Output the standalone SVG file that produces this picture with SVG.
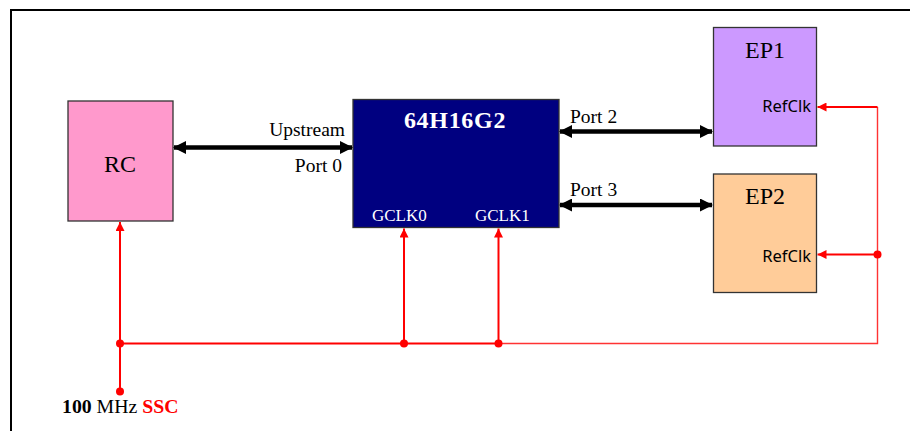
<svg xmlns="http://www.w3.org/2000/svg" width="910" height="431" viewBox="0 0 910 431">
<style>
.serif{font-family:"Liberation Serif","Times New Roman",serif}
.sans{font-family:"Noto Sans","DejaVu Sans",sans-serif}
.box{stroke:#333;stroke-width:1.3}
.bus{stroke:#000;stroke-width:4.5;fill:none}
.clk{stroke:#FF0000;stroke-width:2;fill:none}
.dot{fill:#FF0000}
</style>
<defs>
<marker id="ah" markerWidth="13" markerHeight="13" refX="12" refY="6.5" orient="auto-start-reverse" markerUnits="userSpaceOnUse">
<path d="M0,0 L13,6.5 L0,13 Z" fill="#000"/>
</marker>
<marker id="rh" markerWidth="9" markerHeight="9" refX="9" refY="4.5" orient="auto" markerUnits="userSpaceOnUse">
<path d="M0,0 L9,4.5 L0,9 Z" fill="#FF0000"/>
</marker>
</defs>
<rect width="910" height="431" fill="#fff"/>
<g id="frame" fill="none" stroke="#000" stroke-width="2">
<path d="M11,431 V10 H910"/>
</g>
<g id="RC">
<rect class="box" x="68" y="101" width="105" height="120" fill="#FF99CC"/>
<text class="serif" x="120" y="172" font-size="24" text-anchor="middle" fill="#000">RC</text>
</g>
<g id="switch">
<rect class="box" x="353" y="99.5" width="206" height="128" fill="#000080"/>
<text class="serif" x="455" y="128" font-size="24" font-weight="bold" text-anchor="middle" fill="#fff" letter-spacing="0.7">64H16G2</text>
<text class="serif" x="372" y="221" font-size="17" fill="#fff">GCLK0</text>
<text class="serif" x="475" y="221" font-size="17" fill="#fff">GCLK1</text>
</g>
<g id="EP1">
<rect class="box" x="713.5" y="27.5" width="103" height="118.5" fill="#CC99FF"/>
<text class="serif" x="765" y="58" font-size="24" text-anchor="middle" fill="#000">EP1</text>
<text class="sans" x="811" y="112" font-size="16.5" text-anchor="end" fill="#000">RefClk</text>
</g>
<g id="EP2">
<rect class="box" x="713.5" y="174" width="103" height="118.5" fill="#FFCC99"/>
<text class="serif" x="765" y="204" font-size="24" text-anchor="middle" fill="#000">EP2</text>
<text class="sans" x="811" y="262" font-size="16.5" text-anchor="end" fill="#000">RefClk</text>
</g>
<g id="source">
<text class="serif" x="62" y="413" font-size="19.8"><tspan font-weight="bold" fill="#000">100</tspan><tspan fill="#000"> MHz </tspan><tspan font-weight="bold" fill="#FF0000">SSC</tspan></text>
</g>
<g id="connectors">
<line class="bus" x1="174" y1="147.5" x2="352" y2="147.5" marker-start="url(#ah)" marker-end="url(#ah)"/>
<line class="bus" x1="560" y1="131.5" x2="712" y2="131.5" marker-start="url(#ah)" marker-end="url(#ah)"/>
<line class="bus" x1="560" y1="205" x2="712" y2="205" marker-start="url(#ah)" marker-end="url(#ah)"/>
<text class="serif" x="345" y="136" font-size="19.5" text-anchor="end">Upstream</text>
<text class="serif" x="342" y="172" font-size="19.5" text-anchor="end">Port 0</text>
<text class="serif" x="570" y="123" font-size="19.5">Port 2</text>
<text class="serif" x="570" y="196" font-size="19.5">Port 3</text>
<line class="clk" x1="120" y1="343.5" x2="498" y2="343.5"/>
<path d="M498,343.5 H877.5 V107" fill="none" stroke="#FF3333" stroke-width="1.4"/>
<line class="clk" x1="120" y1="392" x2="120" y2="222" marker-end="url(#rh)"/>
<line class="clk" x1="404" y1="343.5" x2="404" y2="228.5" marker-end="url(#rh)"/>
<line class="clk" x1="498.5" y1="343.5" x2="498.5" y2="228.5" stroke-width="3" marker-end="url(#rh)"/>
<line class="clk" x1="877.5" y1="107" x2="817.5" y2="107" marker-end="url(#rh)"/>
<line class="clk" x1="877.5" y1="254.5" x2="817.5" y2="254.5" marker-end="url(#rh)"/>
<circle class="dot" cx="120" cy="343.5" r="4"/>
<circle class="dot" cx="404" cy="343.5" r="4"/>
<circle class="dot" cx="498.5" cy="343.5" r="4"/>
<circle class="dot" cx="877.5" cy="254.5" r="4"/>
<circle class="dot" cx="120" cy="391.5" r="4"/>
</g>
</svg>
